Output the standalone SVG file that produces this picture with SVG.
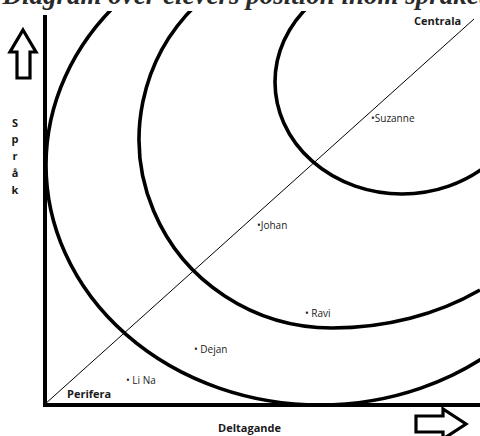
<svg xmlns="http://www.w3.org/2000/svg" width="480" height="436" viewBox="0 0 480 436">
<style>
.lbl{font-family:"Open Sans","DejaVu Sans",sans-serif;font-weight:700;font-size:11px;fill:#1a1a1a}
.nm{font-family:"Open Sans","DejaVu Sans",sans-serif;font-size:10px;fill:#1a1a1a}
.arc{fill:none;stroke:#000;stroke-width:3.6}
.ax{fill:none;stroke:#000;stroke-width:4}
.arr{fill:#fff;stroke:#000;stroke-width:3.2;stroke-linejoin:miter}
</style>
<rect width="480" height="436" fill="#fff"/>
<g id="circles">
<ellipse class="arc" cx="320" cy="165" rx="274" ry="240"/>
<path class="arc" d="M196,5 A193,189 0 0 0 332,328 A246,189 0 0 0 480,290"/>
<ellipse class="arc" cx="402" cy="82" rx="127" ry="112"/>
</g>
<rect x="0" y="0" width="480" height="11" fill="#fff"/>
<g id="title"><text x="2.5" y="4" font-family="Liberation Serif, serif" font-weight="700" font-style="italic" font-size="27" fill="#2a2a2a">Diagram över elevers position inom språket</text></g>
<g id="connectors">
<line x1="44" y1="405" x2="474" y2="19" stroke="#000" stroke-width="1"/>
<path class="ax" d="M45 15 V405 H480"/>
</g>
<g id="arrow-up"><polygon class="arr" points="23,30 36,52 30,52 30,78 17,78 17,52 10,52"/></g>
<g id="arrow-right"><polygon class="arr" points="416,416 443,416 443,409 466,424 443,439 443,432 416,432"/></g>
<g id="axis-y"><text class="lbl" font-size="9.5" text-anchor="middle"><tspan x="15" y="127">S</tspan><tspan x="15" y="143">p</tspan><tspan x="15" y="160">r</tspan><tspan x="15" y="177">å</tspan><tspan x="15" y="194">k</tspan></text></g>
<g id="centrala"><text class="lbl" x="414" y="25">Centrala</text></g>
<g id="perifera"><text class="lbl" x="67" y="398">Perifera</text></g>
<g id="deltagande"><text class="lbl" x="218" y="432">Deltagande</text></g>
<g id="suzanne"><text class="nm" x="371" y="122">•Suzanne</text></g>
<g id="johan"><text class="nm" x="257" y="229">•Johan</text></g>
<g id="ravi"><text class="nm" x="305" y="317">• Ravi</text></g>
<g id="dejan"><text class="nm" x="194" y="353">• Dejan</text></g>
<g id="lina"><text class="nm" x="126" y="384">• Li Na</text></g>
</svg>
